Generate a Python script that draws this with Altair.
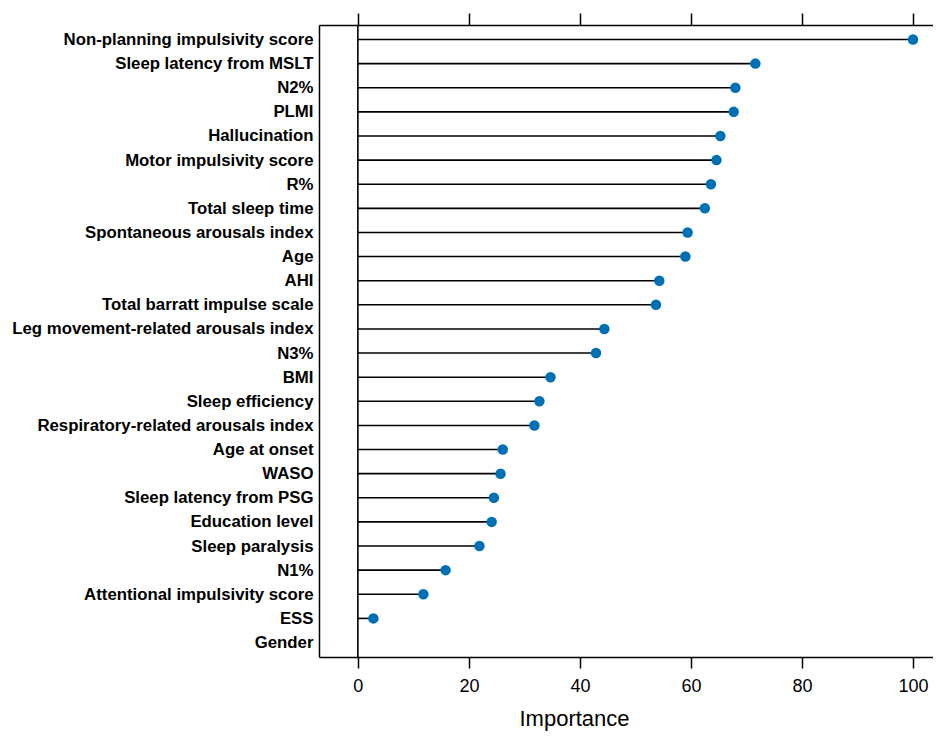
import altair as alt
import pandas as pd

features = [
    "Non-planning impulsivity score", "Sleep latency from MSLT", "N2%", "PLMI",
    "Hallucination", "Motor impulsivity score", "R%", "Total sleep time",
    "Spontaneous arousals index", "Age", "AHI", "Total barratt impulse scale",
    "Leg movement-related arousals index", "N3%", "BMI", "Sleep efficiency",
    "Respiratory-related arousals index", "Age at onset", "WASO",
    "Sleep latency from PSG", "Education level", "Sleep paralysis", "N1%",
    "Attentional impulsivity score", "ESS", "Gender",
]
importance = [
    100.0, 71.6, 68.0, 67.7, 65.3, 64.6, 63.6, 62.5, 59.4, 59.0, 54.3, 53.7,
    44.4, 42.9, 34.7, 32.7, 31.8, 26.1, 25.7, 24.5, 24.1, 21.9, 15.8, 11.8,
    2.8, None,
]
x_ticks = [0, 20, 40, 60, 80, 100]

df = pd.DataFrame({"feature": features, "importance": importance})

W, H = 614, 632
FONT = "Liberation Sans"

xscale = alt.Scale(domain=[-7, 103.6], nice=False, zero=False)
yscale = alt.Scale(type="point", domain=features, padding=0.6)

yaxis = alt.Axis(
    title=None, ticks=False, domain=True, domainColor="black", domainWidth=1.5,
    labelFont=FONT, labelFontSize=16.8, labelFontWeight="bold", labelColor="black",
    labelPadding=6, labelLimit=400, grid=False,
)

x_bottom = alt.Axis(
    orient="bottom", values=x_ticks, title="Importance", titleFont=FONT,
    titleFontSize=22, titleFontWeight="normal", titleColor="black",
    titleX=255, titleY=68, titleBaseline="alphabetic",
    labelFont=FONT, labelFontSize=18, labelColor="black", labelPadding=9,
    tickSize=11, tickColor="black", tickWidth=1.5,
    domainColor="black", domainWidth=1.5, grid=False,
)
x_top = alt.Axis(
    orient="top", values=x_ticks, title=None, labels=False,
    tickSize=12, tickColor="black", tickWidth=1.5,
    domainColor="black", domainWidth=1.5, grid=False,
)

base = alt.Chart(df).transform_filter("datum.importance != null")

segments = base.mark_rule(color="black", strokeWidth=1.6).encode(
    x=alt.X("zero:Q", scale=xscale, axis=x_bottom),
    x2="importance:Q",
    y=alt.Y("feature:N", scale=yscale, sort=features, axis=yaxis),
).transform_calculate(zero="0")

points = base.mark_circle(color="#0070B5", opacity=1, size=110).encode(
    x=alt.X("importance:Q", scale=xscale, axis=None),
    y=alt.Y("feature:N", scale=yscale, sort=features, axis=yaxis),
)

zero_line = alt.Chart(pd.DataFrame({"v": [0]})).mark_rule(
    color="black", strokeWidth=1.6
).encode(
    x=alt.X("v:Q", scale=xscale, axis=x_top),
)

chart = alt.layer(segments, points, zero_line).resolve_axis(
    x="independent"
).properties(
    width=W, height=H,
    autosize=alt.AutoSizeParams(type="none"),
    padding={"left": 311, "top": 17, "right": 0, "bottom": 74},
    background="white",
).configure_view(stroke=None)

chart.save("out.html", embed_options={"renderer": "svg", "actions": False})
